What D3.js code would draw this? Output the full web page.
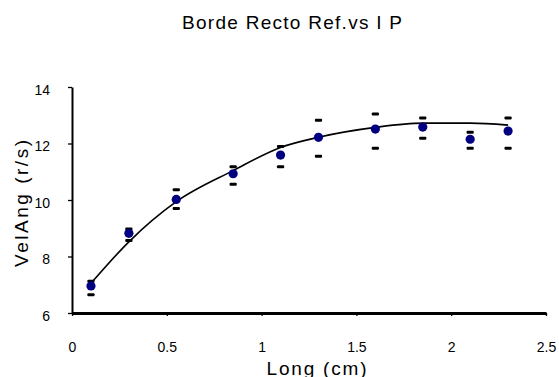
<!DOCTYPE html>
<html>
<head>
<meta charset="utf-8">
<script src="https://cdn.jsdelivr.net/npm/d3@7"></script>
<style>
  body { margin: 0; background: #fff; }
  text { font-family: "Liberation Sans", Arial, sans-serif; fill: #000; }
</style>
</head>
<body>
<svg id="chart"></svg>
<script>
const longCm  = [0.1, 0.3, 0.55, 0.85, 1.1, 1.3, 1.6, 1.85, 2.1, 2.3];
const velAng  = [6.96, 8.82, 10.02, 10.93, 11.59, 12.22, 12.51, 12.58, 12.15, 12.44];
const errUp   = [7.12, 8.97, 10.36, 11.18, 11.89, 12.82, 13.04, 12.90, 12.40, 12.90];
const errDown = [6.65, 8.57, 9.70, 10.56, 11.18, 11.55, 11.83, 12.19, 11.83, 11.83];

// trend line samples
const trendX = [0.1, 0.3, 0.55, 0.85, 1.1, 1.3, 1.6, 1.85, 2.1, 2.3];
const trendY = [7.05, 8.52, 9.94, 11.04, 11.86, 12.22, 12.57, 12.72, 12.72, 12.65];

const xTicks = [0, 0.5, 1, 1.5, 2, 2.5];
const yTicks = [6, 8, 10, 12, 14];

const svgWidth = 559;
const svgHeight = 377;
const margin = { top: 87, bottom: 64, left: 72, right: 13 };
const width = svgWidth - margin.left - margin.right;
const height = svgHeight - margin.top - margin.bottom;

const svg = d3.select('#chart')
    .attr('width', svgWidth)
    .attr('height', svgHeight);

const g = svg.append('g')
    .attr('transform', 'translate(' + margin.left + ',' + margin.top + ')');

const xScale = d3.scaleLinear().domain([0, 2.5]).range([0, width]);
const yScale = d3.scaleLinear().domain([6, 14]).range([height, 0]);

// axes
const xAxis = d3.axisBottom(xScale)
    .tickValues(xTicks)
    .tickSize(3)
    .tickSizeOuter(0)
    .tickPadding(26)
    .tickFormat(d3.format('~g'));
const yAxis = d3.axisLeft(yScale)
    .tickValues(yTicks)
    .tickSize(4)
    .tickSizeOuter(0)
    .tickPadding(18)
    .tickFormat(d3.format('d'));

const gX = g.append('g')
    .attr('transform', 'translate(0,' + height + ')')
    .call(xAxis);
const gY = g.append('g').call(yAxis);

[gX, gY].forEach(ax => {
    ax.select('.domain').attr('stroke', '#000');
    ax.selectAll('.tick line').attr('stroke', '#000').attr('stroke-width', 1.3);
    ax.selectAll('.tick text')
        .style('font-family', '"Liberation Sans", Arial, sans-serif')
        .style('font-size', '14px')
        .attr('fill', '#000');
});
gX.select('.domain').attr('stroke-width', 3);
gY.select('.domain').attr('stroke-width', 2);
gY.selectAll('.tick text').attr('dy', '0.5em');

// trend line
const trend = trendX.map((x, i) => [x, trendY[i]]);
const line = d3.line()
    .x(d => xScale(d[0]))
    .y(d => yScale(d[1]))
    .curve(d3.curveMonotoneX);
g.append('path')
    .datum(trend)
    .attr('fill', 'none')
    .attr('stroke', '#000')
    .attr('stroke-width', 1.6)
    .attr('d', line);

// error caps
const caps = longCm.flatMap((x, i) => [[x, errUp[i]], [x, errDown[i]]]);
g.selectAll('rect.cap')
    .data(caps)
    .enter()
    .append('rect')
    .attr('class', 'cap')
    .attr('x', d => xScale(d[0]) - 3.6)
    .attr('y', d => yScale(d[1]) - 1.5)
    .attr('width', 7.2)
    .attr('height', 3)
    .attr('rx', 1)
    .attr('fill', '#000');

// points
g.selectAll('circle')
    .data(longCm)
    .enter()
    .append('circle')
    .attr('cx', d => xScale(d))
    .attr('cy', (d, i) => yScale(velAng[i]))
    .attr('r', 4.6)
    .attr('fill', '#000080');

// titles
svg.append('text')
    .attr('x', 292)
    .attr('y', 28.5)
    .attr('text-anchor', 'middle')
    .attr('textLength', 220)
    .attr('lengthAdjust', 'spacing')
    .style('font-size', '19px')
    .text('Borde Recto Ref.vs I P');

svg.append('text')
    .attr('x', 316.5)
    .attr('y', 375)
    .attr('text-anchor', 'middle')
    .attr('textLength', 100)
    .attr('lengthAdjust', 'spacing')
    .style('font-size', '19px')
    .text('Long (cm)');

svg.append('text')
    .attr('transform', 'translate(28,203.5) rotate(-90)')
    .attr('text-anchor', 'middle')
    .attr('textLength', 127)
    .attr('lengthAdjust', 'spacing')
    .style('font-size', '19px')
    .text('VelAng (r/s)');
</script>
</body>
</html>
